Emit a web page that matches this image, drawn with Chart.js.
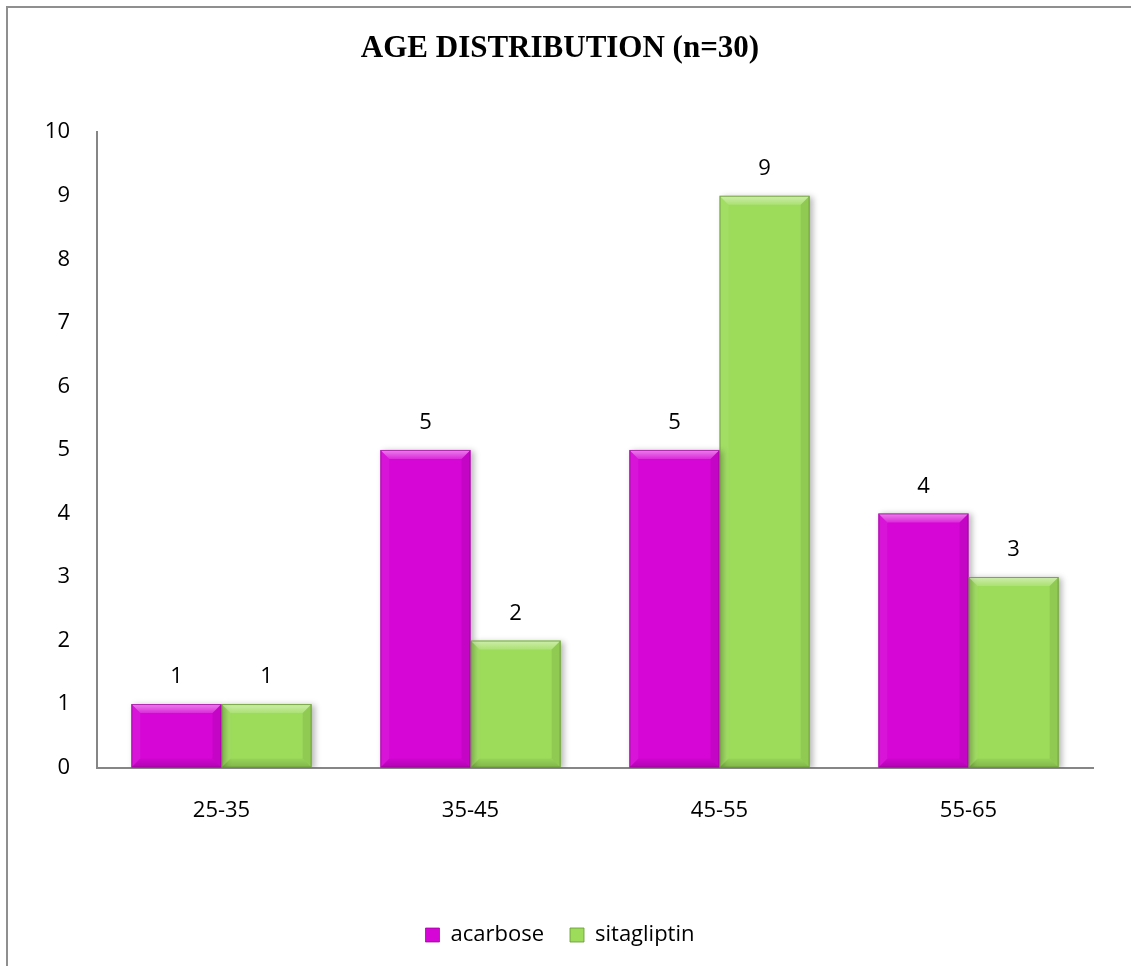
<!DOCTYPE html>
<html>
<head>
<meta charset="utf-8">
<script src="https://cdn.jsdelivr.net/npm/chart.js@4.4.1/dist/chart.umd.min.js"></script>
<style>
  html, body { margin: 0; padding: 0; background: #ffffff; }
  #wrap { position: relative; width: 1131px; height: 966px; overflow: hidden; }
  #frame { position: absolute; left: 6px; top: 6px; width: 1200px; height: 1100px;
           border-left: 2px solid #8f8f8f; border-top: 2px solid #8f8f8f; pointer-events: none; }
  canvas { position: absolute; left: 0; top: 0; }
</style>
</head>
<body>
<div id="wrap">
  <canvas id="chart" width="1131" height="966"></canvas>
  <div id="frame"></div>
</div>
<script>
// Age groups and patient counts per treatment arm
const categories = ['25-35', '35-45', '45-55', '55-65'];
const acarbose = [1, 5, 5, 4];
const sitagliptin = [1, 2, 9, 3];
const yTicks = [0, 1, 2, 3, 4, 5, 6, 7, 8, 9, 10];

const LABEL_FONT = { family: '"Open Sans", "Noto Sans", sans-serif', size: 22 };

// Soft drop shadow under the bars, then a bevelled face on top of each bar
const bevelPlugin = {
  id: 'bevel',
  beforeDatasetsDraw(chart) {
    const ctx = chart.ctx;
    ctx.save();
    ctx.shadowColor = 'rgba(0,0,0,0.28)';
    ctx.shadowBlur = 6;
    ctx.shadowOffsetX = 3;
    ctx.shadowOffsetY = 1;
  },
  afterDatasetsDraw(chart) {
    const ctx = chart.ctx;
    ctx.restore();
    ctx.save();
    chart.data.datasets.forEach((ds, i) => {
      const meta = chart.getDatasetMeta(i);
      meta.data.forEach(bar => {
        const p = bar.getProps(['x', 'y', 'base', 'width'], true);
        const l = p.x - p.width / 2, r = p.x + p.width / 2;
        const t = Math.min(p.y, p.base), b = Math.max(p.y, p.base);
        const bv = Math.min(9, (b - t) / 2);
        const poly = (pts, fill) => {
          ctx.beginPath();
          ctx.moveTo(pts[0][0], pts[0][1]);
          for (let k = 1; k < pts.length; k++) ctx.lineTo(pts[k][0], pts[k][1]);
          ctx.closePath();
          ctx.fillStyle = fill;
          ctx.fill();
        };
        // top edge highlight
        const gTop = ctx.createLinearGradient(0, t, 0, t + bv);
        gTop.addColorStop(0, 'rgba(255,255,255,0.5)');
        gTop.addColorStop(1, 'rgba(255,255,255,0.15)');
        poly([[l, t], [r, t], [r - bv, t + bv], [l + bv, t + bv]], gTop);
        // bottom edge shade
        const gBot = ctx.createLinearGradient(0, b - bv, 0, b);
        gBot.addColorStop(0, 'rgba(0,0,0,0.04)');
        gBot.addColorStop(1, 'rgba(0,0,0,0.18)');
        poly([[l, b], [r, b], [r - bv, b - bv], [l + bv, b - bv]], gBot);
        // side edges
        poly([[l, t], [l + bv, t + bv], [l + bv, b - bv], [l, b]], 'rgba(255,255,255,0.06)');
        poly([[r, t], [r - bv, t + bv], [r - bv, b - bv], [r, b]], 'rgba(0,0,0,0.08)');
        // thin outline
        ctx.strokeStyle = ds.edgeColor;
        ctx.lineWidth = 1;
        ctx.strokeRect(l + 0.5, t + 0.5, r - l - 1, b - t - 1);
      });
    });
    ctx.restore();
  }
};

// Value written above every bar
const valueLabels = {
  id: 'valueLabels',
  afterDatasetsDraw(chart) {
    const ctx = chart.ctx;
    ctx.save();
    ctx.font = `${LABEL_FONT.size}px ${LABEL_FONT.family}`;
    ctx.fillStyle = '#000000';
    ctx.textAlign = 'center';
    ctx.textBaseline = 'middle';
    chart.data.datasets.forEach((ds, i) => {
      chart.getDatasetMeta(i).data.forEach((bar, j) => {
        ctx.fillText(String(ds.data[j]), bar.x, bar.y - 27);
      });
    });
    ctx.restore();
  }
};

new Chart(document.getElementById('chart'), {
  type: 'bar',
  data: {
    labels: categories,
    datasets: [
      {
        label: 'acarbose',
        data: acarbose,
        backgroundColor: '#d606d6',
        edgeColor: 'rgba(150,0,150,0.7)',
        borderWidth: 0,
        categoryPercentage: 0.724,
        barPercentage: 1.0
      },
      {
        label: 'sitagliptin',
        data: sitagliptin,
        backgroundColor: '#9ddc5b',
        edgeColor: 'rgba(100,150,50,0.8)',
        borderWidth: 0,
        categoryPercentage: 0.724,
        barPercentage: 1.0
      }
    ]
  },
  options: {
    responsive: false,
    animation: false,
    events: [],
    layout: { padding: { left: 27, right: 38, top: 0, bottom: 10 } },
    plugins: {
      title: {
        display: true,
        text: 'AGE DISTRIBUTION (n=30)',
        color: '#000000',
        font: { family: '"Liberation Serif", "Times New Roman", serif', size: 31, weight: 'bold' },
        padding: { top: 30, bottom: 65 }
      },
      legend: {
        position: 'bottom',
        labels: {
          color: '#000000',
          font: LABEL_FONT,
          boxWidth: 14,
          boxHeight: 14,
          padding: 26,
          generateLabels(chart) {
            return chart.data.datasets.map((ds, i) => ({
              text: ds.label,
              fillStyle: ds.backgroundColor,
              strokeStyle: ds.edgeColor,
              lineWidth: 1,
              hidden: false,
              datasetIndex: i
            }));
          }
        }
      },
      tooltip: { enabled: false }
    },
    scales: {
      x: {
        grid: { display: false, drawTicks: false },
        border: { display: true, color: '#868686', width: 2 },
        ticks: { color: '#000000', font: LABEL_FONT, padding: 30 },
        afterFit(scale) { scale.height += 44; }
      },
      y: {
        min: 0,
        max: 10,
        afterBuildTicks(scale) { scale.ticks = yTicks.map(v => ({ value: v })); },
        afterFit(scale) { scale.width = 70; },
        grid: { display: false, drawTicks: false },
        border: { display: true, color: '#868686', width: 2 },
        ticks: { color: '#000000', font: LABEL_FONT, padding: 27 }
      }
    }
  },
  plugins: [bevelPlugin, valueLabels]
});
</script>
</body>
</html>
